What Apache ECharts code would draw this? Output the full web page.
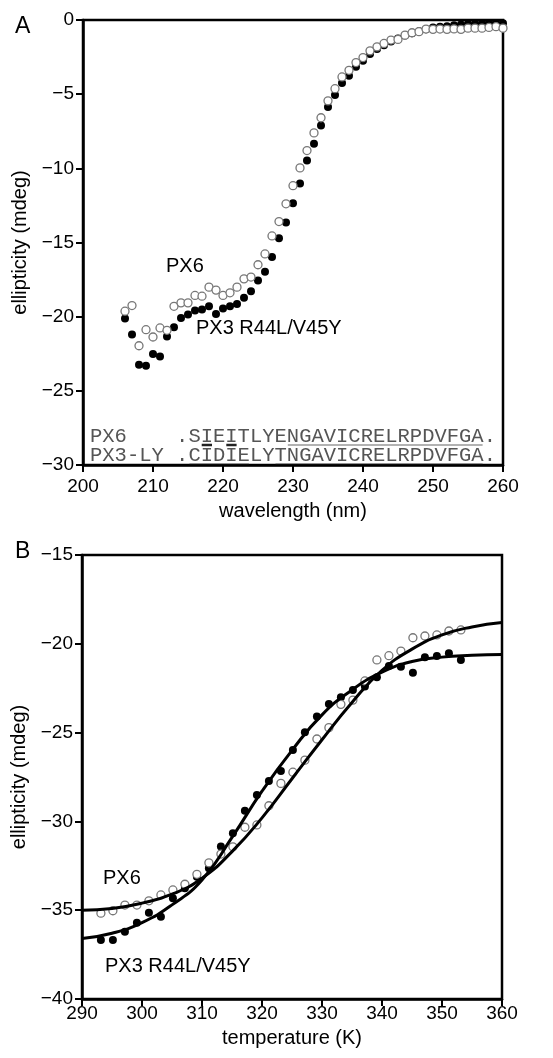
<!DOCTYPE html>
<html>
<head>
<meta charset="utf-8">
<title>PX6 / PX3 R44L/V45Y CD</title>
<script src="https://cdn.jsdelivr.net/npm/echarts@6/dist/echarts.min.js"></script>
<style>
  html, body { margin: 0; padding: 0; background: #fff; }
  #chart { width: 553px; height: 1058px; }
</style>
</head>
<body>
<div id="chart"></div>
<script>
// --- panel A: CD spectra (mdeg vs nm) ---
const wavelength = [206, 207, 208, 209, 210, 211, 212, 213, 214,
  215, 216, 217, 218, 219, 220, 221, 222, 223, 224,
  225, 226, 227, 228, 229, 230, 231, 232, 233, 234,
  235, 236, 237, 238, 239, 240, 241, 242, 243, 244,
  245, 246, 247, 248, 249, 250, 251, 252, 253, 254,
  255, 256, 257, 258, 259, 260];
const px6Spectrum = [-19.63, -19.25, -21.96, -20.88, -21.37, -20.76, -20.92, -19.30, -19.07, -19.07,
  -18.57, -18.62, -18.01, -18.21, -18.57, -18.39, -18.01, -17.45, -17.33, -16.50,
  -15.77, -14.56, -13.59, -12.39, -11.17, -9.97, -8.80, -7.61, -6.59, -5.45,
  -4.63, -3.84, -3.39, -2.87, -2.53, -2.08, -1.81, -1.58, -1.35, -1.31,
  -1.02, -0.86, -0.79, -0.61, -0.63, -0.61, -0.63, -0.60, -0.63,
  -0.55, -0.55, -0.55, -0.50, -0.45, -0.55];
const px3Spectrum = [-20.13, -21.21, -23.24, -23.31, -22.52, -22.68, -21.33, -20.72, -20.09, -19.86,
  -19.59, -19.52, -19.30, -19.82, -19.45, -19.30, -19.14, -18.73, -18.28, -17.56,
  -16.97, -15.98, -14.72, -13.65, -12.35, -11.02, -9.48, -8.35, -7.11, -5.87,
  -5.05, -4.25, -3.75, -3.15, -2.75, -2.30, -1.95, -1.70, -1.45, -1.25,
  -1.05, -0.90, -0.75, -0.62, -0.50, -0.45, -0.42, -0.35, -0.30,
  -0.25, -0.25, -0.22, -0.20, -0.20, -0.22];

// --- panel B: thermal melts ---
const temperature = [293.15, 295.15, 297.15, 299.15, 301.15, 303.15, 305.15, 307.15, 309.15, 311.15,
  313.15, 315.15, 317.15, 319.15, 321.15, 323.15, 325.15, 327.15, 329.15, 331.15,
  333.15, 335.15, 337.15, 339.15, 341.15, 343.15, 345.15, 347.15, 349.15, 351.15, 353.15];
const px6Melt = [-35.17, -35.03, -34.71, -34.71, -34.47, -34.14, -33.86, -33.54, -32.98, -32.33,
  -31.84, -31.43, -30.33, -30.20, -29.12, -27.86, -27.23, -26.55, -25.36, -24.72,
  -23.41, -23.17, -22.09, -20.91, -20.67, -20.41, -19.66, -19.56, -19.50, -19.28, -19.22];
const px3Melt = [-36.68, -36.68, -36.21, -35.70, -35.14, -35.37, -34.33, -33.77, -33.11, -32.64,
  -31.42, -30.67, -29.40, -28.51, -27.73, -27.16, -25.98, -24.98, -24.10, -23.39,
  -23.01, -22.60, -22.41, -21.89, -21.25, -21.29, -21.63, -20.76, -20.69, -20.53, -20.91];

// fitted curves
const fitTemperature = [290, 295, 300, 305, 310, 315, 320, 325, 330, 335, 340, 345, 350, 355, 360];
const px6Fit = [-35.0, -34.9, -34.6, -34.1, -33.2, -31.7, -29.8, -27.6, -25.4, -23.3, -21.5, -20.3, -19.5, -19.05, -18.8];
const px3Fit = [-36.6, -36.3, -35.7, -34.7, -33.3, -30.9, -28.3, -26.0, -24.0, -22.6, -21.6, -21.0, -20.75, -20.65, -20.6];

// sequence alignment shown inside panel A
const seqRows = ['PX6    .SIEITLYENGAVICRELRPDVFGA.', 'PX3-LY .CIDIELYTNGAVICRELRPDVFGA.'];
const seqUnderlines = [
  [[9, 9, true], [11, 11, true], [16, 31, false]],
  [[8, 12, false], [15, 31, false]]
];

const SANS = '"Liberation Sans", Arial, Helvetica, sans-serif';
const MONO = '"Liberation Mono", "Courier New", monospace';

function minus(v) {
  return v < 0 ? '\u2212' + (-v) : String(v);
}

function pairs(xs, ys) {
  return xs.map((x, i) => [x, ys[i]]);
}

function xAxisCfg(grid, min, max, name, margin) {
  return {
    gridIndex: grid, type: 'value', min: min, max: max, interval: 10,
    axisLine: {onZero: false, lineStyle: {color: '#000', width: 2.5}},
    axisTick: {length: 7, lineStyle: {color: '#000', width: 2}},
    splitLine: {show: false},
    axisLabel: {color: '#000', fontSize: 19, fontFamily: SANS, margin: margin, showMinLabel: true, showMaxLabel: true},
    name: name, nameLocation: 'middle', nameGap: margin + 24,
    nameTextStyle: {color: '#000', fontSize: 20, fontFamily: SANS}
  };
}

function yAxisCfg(grid, min, max) {
  return {
    gridIndex: grid, type: 'value', min: min, max: max, interval: 5,
    axisLine: {onZero: false, lineStyle: {color: '#000', width: 2.5}},
    axisTick: {length: 7, lineStyle: {color: '#000', width: 2}},
    splitLine: {show: false},
    axisLabel: {color: '#000', fontSize: 19, fontFamily: SANS, margin: 9, formatter: minus, showMinLabel: true, showMaxLabel: true},
    name: 'ellipticity (mdeg)', nameLocation: 'middle', nameGap: 50, nameRotate: 90,
    nameTextStyle: {color: '#000', fontSize: 20, fontFamily: SANS}
  };
}

const openDot = {color: '#fff', borderColor: '#777', borderWidth: 1.3, opacity: 1};
const fullDot = {color: '#000', opacity: 1};

// text + underline decorations
const seqLeft = 90, seqFont = 20.5, charW = seqFont * 0.6;
const seqY = [437, 456];
const graphics = [
  {type: 'text', x: 15, y: 27, style: {text: 'A', font: '23px ' + SANS, fill: '#000', verticalAlign: 'middle'}},
  {type: 'text', x: 15, y: 552, style: {text: 'B', font: '23px ' + SANS, fill: '#000', verticalAlign: 'middle'}},
  {type: 'text', x: 166, y: 266, style: {text: 'PX6', font: '20px ' + SANS, fill: '#000', verticalAlign: 'middle'}},
  {type: 'text', x: 196, y: 328, style: {text: 'PX3 R44L/V45Y', font: '20px ' + SANS, fill: '#000', verticalAlign: 'middle'}},
  {type: 'text', x: 103, y: 878, style: {text: 'PX6', font: '20px ' + SANS, fill: '#000', verticalAlign: 'middle'}},
  {type: 'text', x: 105, y: 966, style: {text: 'PX3 R44L/V45Y', font: '20px ' + SANS, fill: '#000', verticalAlign: 'middle'}}
];
seqRows.forEach((row, r) => {
  graphics.push({type: 'text', x: seqLeft, y: seqY[r],
    style: {text: row, font: seqFont + 'px ' + MONO, fill: '#555', verticalAlign: 'middle'}});
  seqUnderlines[r].forEach(u => {
    const y = seqY[r] + 8;
    graphics.push({type: 'line',
      shape: {x1: seqLeft + u[0] * charW + 1, y1: y, x2: seqLeft + (u[1] + 1) * charW - 1, y2: y},
      style: {stroke: u[2] ? '#222' : '#666', lineWidth: u[2] ? 2.5 : 1.2}});
  });
});

const chart = echarts.init(document.getElementById('chart'), null, {renderer: 'canvas'});
chart.setOption({
  animation: false,
  backgroundColor: '#fff',
  grid: [
    {left: 83, top: 20, width: 420, height: 445, show: true, borderColor: '#000', borderWidth: 2.5, backgroundColor: 'transparent'},
    {left: 82, top: 555, width: 420, height: 444, show: true, borderColor: '#000', borderWidth: 2.5, backgroundColor: 'transparent'}
  ],
  xAxis: [
    xAxisCfg(0, 200, 260, 'wavelength (nm)', 12),
    xAxisCfg(1, 290, 360, 'temperature (K)', 5)
  ],
  yAxis: [
    yAxisCfg(0, -30, 0),
    yAxisCfg(1, -40, -15)
  ],
  series: [
    {name: 'PX3 R44L/V45Y', type: 'scatter', xAxisIndex: 0, yAxisIndex: 0, symbolSize: 8,
      itemStyle: fullDot, data: pairs(wavelength, px3Spectrum)},
    {name: 'PX6', type: 'scatter', xAxisIndex: 0, yAxisIndex: 0, symbolSize: 8,
      itemStyle: openDot, data: pairs(wavelength, px6Spectrum)},
    {name: 'PX3 R44L/V45Y melt', type: 'scatter', xAxisIndex: 1, yAxisIndex: 1, symbolSize: 8,
      itemStyle: fullDot, data: pairs(temperature, px3Melt)},
    {name: 'PX6 melt', type: 'scatter', xAxisIndex: 1, yAxisIndex: 1, symbolSize: 8,
      itemStyle: openDot, data: pairs(temperature, px6Melt)},
    {name: 'PX6 fit', type: 'line', xAxisIndex: 1, yAxisIndex: 1, smooth: true, symbol: 'none',
      lineStyle: {color: '#000', width: 3}, data: pairs(fitTemperature, px6Fit)},
    {name: 'PX3 fit', type: 'line', xAxisIndex: 1, yAxisIndex: 1, smooth: true, symbol: 'none',
      lineStyle: {color: '#000', width: 3}, data: pairs(fitTemperature, px3Fit)}
  ],
  graphic: graphics
});
</script>
</body>
</html>
